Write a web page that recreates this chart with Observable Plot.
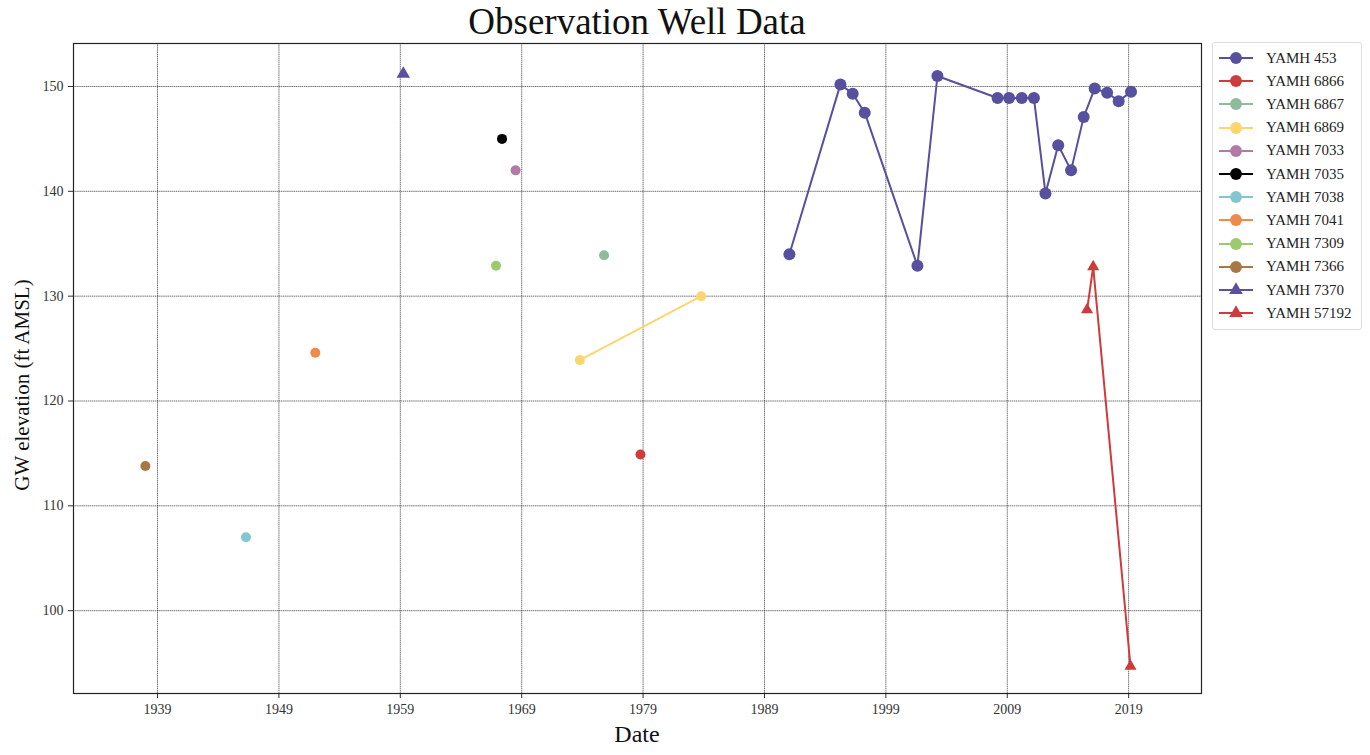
<!DOCTYPE html>
<html>
<head>
<meta charset="utf-8">
<script src="https://cdn.jsdelivr.net/npm/d3@7"></script>
<script src="https://cdn.jsdelivr.net/npm/@observablehq/plot@0.6"></script>
<style>
  html, body { margin: 0; padding: 0; background: #fff; }
  #wrap { position: relative; width: 1370px; height: 755px; font-family: "Liberation Serif", "Times New Roman", serif; }
  #title { position: absolute; left: 73px; width: 1128px; top: 0px; text-align: center; font-size: 37px; color: #111; line-height: 44px; }
  #xlabel { position: absolute; left: 73px; width: 1128px; top: 719px; text-align: center; font-size: 24px; color: #111; line-height: 30px; }
  #ylabel { position: absolute; left: 22px; top: 385px; transform: translate(-50%, -50%) rotate(-90deg); white-space: nowrap; font-size: 21px; color: #111; }
  #legend { position: absolute; left: 1212px; top: 42px; width: 150px; height: 288px; border: 1px solid #ddd; border-radius: 3px; box-sizing: border-box; background: #fff; }
  .lrow { position: absolute; left: 0; height: 20px; display: flex; align-items: center; font-size: 15px; color: #222; }
  .lrow svg { margin-left: 5px; margin-right: 12px; }
  #chart { position: absolute; left: 0; top: 0; }
</style>
</head>
<body>
<div id="wrap">
  <div id="chart"></div>
  <div id="title">Observation Well Data</div>
  <div id="xlabel">Date</div>
  <div id="ylabel">GW elevation (ft AMSL)</div>
  <div id="legend"></div>
</div>
<script>
// ---- Data ----
const wells = ["YAMH 453", "YAMH 6866", "YAMH 6867", "YAMH 6869", "YAMH 7033", "YAMH 7035",
               "YAMH 7038", "YAMH 7041", "YAMH 7309", "YAMH 7366", "YAMH 7370", "YAMH 57192"];
const wellColors = ["#56509e", "#d03c3c", "#8dbb9c", "#fbd56e", "#b479a6", "#000000",
                    "#82c6d0", "#ee8a4c", "#9bcb6e", "#a87746", "#5c4fa0", "#cf3b3b"];
const wellSymbols = ["circle", "circle", "circle", "circle", "circle", "circle",
                     "circle", "circle", "circle", "circle", "triangle", "triangle"];

const dates453 = ["1991-01-20", "1995-04-05", "1996-04-08", "1997-04-05", "2001-08-08", "2003-04-01",
                  "2008-03-14", "2009-02-24", "2010-03-14", "2011-03-14", "2012-02-24", "2013-03-14",
                  "2014-04-05", "2015-04-20", "2016-03-14", "2017-03-25", "2018-03-07", "2019-03-14"];
const values453 = [134.0, 150.2, 149.3, 147.5, 132.9, 151.0,
                   148.9, 148.9, 148.9, 148.9, 139.8, 144.4,
                   142.0, 147.1, 149.8, 149.4, 148.6, 149.5];
const dates6866 = ["1978-10-15"];  const values6866 = [114.9];
const dates6867 = ["1975-10-15"];  const values6867 = [133.9];
const dates6869 = ["1973-10-15", "1983-10-15"];  const values6869 = [123.9, 130.0];
const dates7033 = ["1968-07-01"];  const values7033 = [142.0];
const dates7035 = ["1967-05-20"];  const values7035 = [145.0];
const dates7038 = ["1946-04-15"];  const values7038 = [107.0];
const dates7041 = ["1952-01-01"];  const values7041 = [124.6];
const dates7309 = ["1966-11-20"];  const values7309 = [132.9];
const dates7366 = ["1938-01-01"];  const values7366 = [113.8];
const dates7370 = ["1959-04-01"];  const values7370 = [151.2];
const dates57192 = ["2015-07-30", "2016-01-30", "2019-02-25"];
const values57192 = [128.7, 132.8, 94.7];

const xTickYears = [1939, 1949, 1959, 1969, 1979, 1989, 1999, 2009, 2019];
const yTicks = [100, 110, 120, 130, 140, 150];

// ---- Build table ----
const seriesDates = [dates453, dates6866, dates6867, dates6869, dates7033, dates7035,
                     dates7038, dates7041, dates7309, dates7366, dates7370, dates57192];
const seriesValues = [values453, values6866, values6867, values6869, values7033, values7035,
                      values7038, values7041, values7309, values7366, values7370, values57192];
const rows = [];
wells.forEach((w, i) => {
  seriesDates[i].forEach((d, j) => rows.push({well: w, date: new Date(d + "T00:00:00Z"), value: seriesValues[i][j]}));
});
const xTicks = xTickYears.map(y => new Date(Date.UTC(y, 0, 1)));
const bigRows = rows.filter(r => r.well === "YAMH 453");
const smallRows = rows.filter(r => r.well !== "YAMH 453" && r.well !== "YAMH 57192");
const triRows = rows.filter(r => r.well === "YAMH 57192");

const gridStyle = {stroke: "#222", strokeOpacity: 0.8, strokeWidth: 0.8, strokeDasharray: "1.5,0.6"};

const chart = Plot.plot({
  width: 1370,
  height: 755,
  marginLeft: 73,
  marginRight: 169,
  marginTop: 43,
  marginBottom: 62,
  style: {fontFamily: "'Liberation Serif', 'Times New Roman', serif", fontSize: "14px", background: "white", color: "#333"},
  x: {type: "utc", domain: [new Date("1932-01-30T00:00:00Z"), new Date("2025-01-01T00:00:00Z")]},
  y: {domain: [92.1, 154.1]},
  color: {domain: wells, range: wellColors},
  symbol: {domain: wells, range: wellSymbols},
  marks: [
    Plot.gridX(xTicks, gridStyle),
    Plot.gridY(yTicks, gridStyle),
    Plot.axisX(xTicks, {tickFormat: d3.utcFormat("%Y"), label: null, tickSize: 5, tickPadding: 6, fontSize: 14, stroke: "#333"}),
    Plot.axisY(yTicks, {label: null, tickSize: 5, tickPadding: 5, fontSize: 14, stroke: "#333"}),
    Plot.line(rows, {x: "date", y: "value", z: "well", stroke: "well", strokeWidth: 2}),
    Plot.dot(smallRows, {x: "date", y: "value", fill: "well", symbol: "well", r: 5, stroke: "none"}),
    Plot.dot(triRows, {x: "date", y: "value", fill: "well", symbol: "well", r: 4.5, stroke: "none"}),
    Plot.dot(bigRows, {x: "date", y: "value", fill: "well", symbol: "well", r: 6, stroke: "none"}),
    Plot.frame({stroke: "#222", strokeWidth: 1.2})
  ]
});
document.getElementById("chart").appendChild(chart);

// ---- Legend ----
const legend = document.getElementById("legend");
wells.forEach((w, i) => {
  const row = document.createElement("div");
  row.className = "lrow";
  row.style.top = (5 + i * 23.2) + "px";
  const ns = "http://www.w3.org/2000/svg";
  const svg = document.createElementNS(ns, "svg");
  svg.setAttribute("width", 36);
  svg.setAttribute("height", 20);
  const line = document.createElementNS(ns, "line");
  line.setAttribute("x1", 1); line.setAttribute("x2", 35);
  line.setAttribute("y1", 10); line.setAttribute("y2", 10);
  line.setAttribute("stroke", wellColors[i]); line.setAttribute("stroke-width", 2);
  svg.appendChild(line);
  const sym = document.createElementNS(ns, "path");
  const symType = wellSymbols[i] === "triangle" ? d3.symbolTriangle : d3.symbolCircle;
  sym.setAttribute("d", d3.symbol(symType, wellSymbols[i] === "triangle" ? 80 : 110)());
  sym.setAttribute("transform", "translate(18,10)");
  sym.setAttribute("fill", wellColors[i]);
  svg.appendChild(sym);
  row.appendChild(svg);
  const t = document.createElement("span");
  t.textContent = w;
  row.appendChild(t);
  legend.appendChild(row);
});
</script>
</body>
</html>
